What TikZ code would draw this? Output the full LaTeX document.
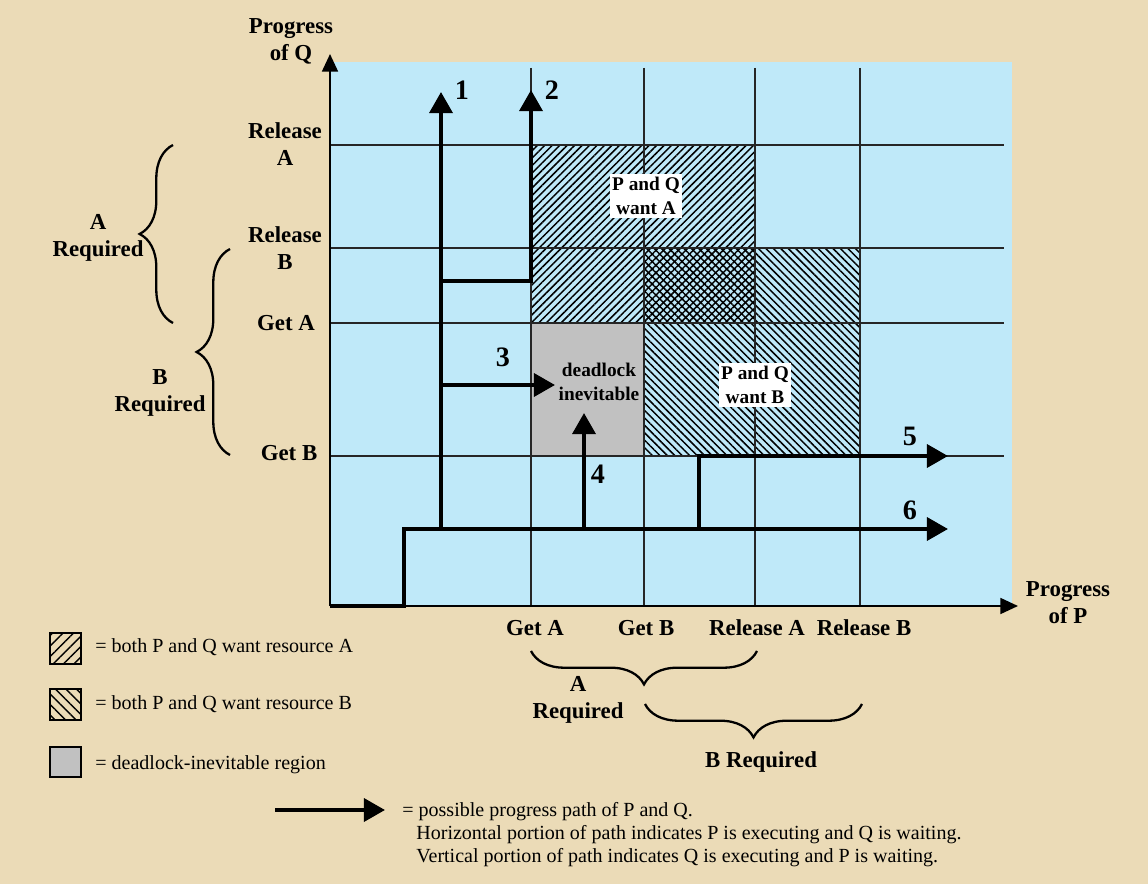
\documentclass[tikz,border=0pt]{standalone}
\usepackage{fontspec}
\setmainfont{Liberation Serif}
\usetikzlibrary{arrows.meta, patterns.meta, decorations.pathreplacing}

\definecolor{parchment}{RGB}{235,219,183}
\definecolor{skyfill}{RGB}{191,233,249}
\definecolor{deadgray}{RGB}{193,193,193}

\begin{document}
\begin{tikzpicture}[x=0.02cm, y=-0.02cm,
  axislbl/.style={font=\fontsize{13}{15.5}\selectfont\bfseries, align=center},
  pathnum/.style={font=\fontsize{16}{18}\selectfont\bfseries},
  regionlbl/.style={font=\fontsize{11}{14}\selectfont\bfseries, align=center, inner sep=1.5pt},
  keytxt/.style={font=\fontsize{11.4}{13.5}\selectfont, anchor=west, inner sep=0pt},
  gridline/.style={black!85, line width=0.6pt},
  progress/.style={line width=2.3pt, -{Triangle[length=12pt, width=13pt]}},
  axisline/.style={line width=1.2pt, -{Triangle[length=10pt, width=9pt]}},
  hatchA/.style={pattern={Lines[angle=45, distance=3pt, line width=0.85pt]}},
  hatchB/.style={pattern={Lines[angle=-45, distance=3pt, line width=0.85pt]}},
  keyhatchA/.style={pattern={Lines[angle=45, distance=4.2pt, line width=0.8pt]}},
  keyhatchB/.style={pattern={Lines[angle=-45, distance=4.2pt, line width=0.8pt]}},
  bracket/.style={decorate, decoration={brace, amplitude=19pt}, line width=1.3pt}]

  % ── background and plane ─────────────────────────────────────────────────

  \fill[parchment] (0,0) rectangle (1148,884);
  \useasboundingbox (0,0) rectangle (1148,884);
  \fill[skyfill] (330,62) rectangle (1012,606);

  % regions
  \fill[deadgray] (531,323) rectangle (644,456);
  \fill[hatchA] (531,145) rectangle (755,323);
  \fill[hatchB] (644,248) rectangle (860,456);

  % grid
  \foreach \gy in {145,248,323,456}
    \draw[gridline] (330,\gy) -- (1004,\gy);
  \foreach \gx in {531,644,755,860}
    \draw[gridline] (\gx,68) -- (\gx,606);

  % ── axes ─────────────────────────────────────────────────────────────────

  \coordinate (origin) at (330,606);
  \coordinate (qend) at (330,54);
  \coordinate (pend) at (1018,606);
  \draw[axisline] (origin) -- (qend);
  \draw[axisline] (origin) -- (pend);

  \node[axislbl] (qlabel) at (291,41) {Progress\\of Q};
  \node[axislbl] (plabel) at (1068,603) {Progress\\of P};

  \node[axislbl] (qrelA) at (285,144) {Release\\A};
  \node[axislbl] (qrelB) at (285,248) {Release\\B};
  \node[axislbl] (qgetA) at (286,323) {Get A};
  \node[axislbl] (qgetB) at (289,453) {Get B};

  \node[axislbl] (pgetA) at (535,628) {Get A};
  \node[axislbl] (pgetB) at (646,628) {Get B};
  \node[axislbl] (prelA) at (757,628) {Release A};
  \node[axislbl] (prelB) at (864,628) {Release B};

  % braces
  \draw[bracket] (173,323) -- (173,145);
  \draw[bracket] (230,455) -- (230,249);
  \draw[bracket] (757,651) -- (531,651);
  \draw[bracket] (862,704) -- (645,704);

  \node[axislbl] (qreqA) at (98,238) {A\\Required};
  \node[axislbl] (qreqB) at (160,393) {B\\Required};
  \node[axislbl] (preqA) at (578,700) {A\\Required};
  \node[axislbl] (preqB) at (761,762) {B Required};

  % region labels
  \node[regionlbl, fill=white] (wantA) at (646,196) {P and Q\\want A};
  \node[regionlbl, fill=white] (wantB) at (755,385) {P and Q\\want B};
  \node[regionlbl] (dead) at (599,382) {deadlock\\inevitable};

  % ── progress paths ───────────────────────────────────────────────────────

  \coordinate (step) at (404,606);
  \coordinate (base) at (404,529);
  \coordinate (p1foot) at (441,529);
  \coordinate (p1tip) at (441,92);
  \coordinate (p2turn) at (441,281);
  \coordinate (p2knee) at (531,281);
  \coordinate (p2tip) at (531,90);
  \coordinate (p3foot) at (441,385);
  \coordinate (p3tip) at (555,385);
  \coordinate (p4foot) at (584,529);
  \coordinate (p4tip) at (584,413);
  \coordinate (p5foot) at (699,529);
  \coordinate (p5knee) at (699,456);
  \coordinate (p5tip) at (948,456);
  \coordinate (p6tip) at (948,529);

  \draw[progress] (origin) -- (step) -- (base) -- (p6tip);
  \draw[progress] (p1foot) -- (p1tip);
  \draw[progress] (p2turn) -- (p2knee) -- (p2tip);
  \draw[progress] (p3foot) -- (p3tip);
  \draw[progress] (p4foot) -- (p4tip);
  \draw[progress] (p5foot) -- (p5knee) -- (p5tip);

  \node[pathnum] (n1) at (462,90) {1};
  \node[pathnum] (n2) at (552,90) {2};
  \node[pathnum] (n3) at (503,357) {3};
  \node[pathnum] (n4) at (598,474) {4};
  \node[pathnum] (n5) at (910,436) {5};
  \node[pathnum] (n6) at (910,510) {6};

  % ── key ──────────────────────────────────────────────────────────────────

  \draw[keyhatchA, line width=0.8pt] (50,633) rectangle (81,664);
  \draw[keyhatchB, line width=0.8pt] (50,689) rectangle (81,720);
  \draw[fill=deadgray, line width=0.8pt] (50,747) rectangle (81,777);

  \node[keytxt] (keyA) at (95,647) {= both P and Q want resource A};
  \node[keytxt] (keyB) at (95,704) {= both P and Q want resource B};
  \node[keytxt] (keyD) at (95,765) {= deadlock-inevitable region};

  \coordinate (keytail) at (275,810);
  \coordinate (keytip) at (385,810);
  \draw[progress] (keytail) -- (keytip);

  \node[keytxt] (keyP) at (402,812) {= possible progress path of P and Q.};
  \node[keytxt] (keyH) at (416,835) {Horizontal portion of path indicates P is executing and Q is waiting.};
  \node[keytxt] (keyV) at (416,858) {Vertical portion of path indicates Q is executing and P is waiting.};

\end{tikzpicture}
\end{document}
